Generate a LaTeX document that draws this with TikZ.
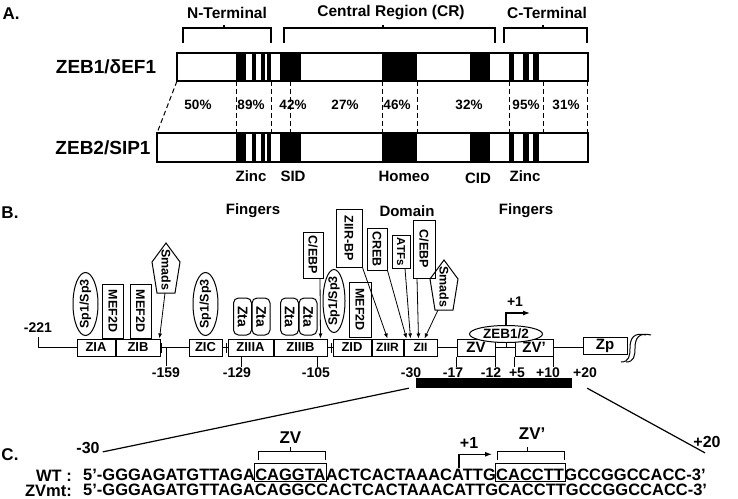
\documentclass[tikz,border=0pt]{standalone}
\usepackage{fontspec}
\setmainfont{Liberation Sans}
\usetikzlibrary{calc,arrows.meta,positioning,shapes.geometric}

\newcommand{\sz}[1]{\fontsize{#1}{#1}\selectfont\bfseries}
% pentagon round a Smads label
\newcommand{\smadsshape}[1]{\draw[line width=1pt] ($(#1)+(0,-25)$) -- ($(#1)+(14,-6)$) -- ($(#1)+(9,25)$) -- ($(#1)+(-9,25)$) -- ($(#1)+(-14,-6)$) -- cycle;}

\begin{document}
\begin{tikzpicture}[x=1pt,y=-1pt,
 panel/.style={font=\sz{17}},
 region/.style={font=\sz{15.5}},
 prot/.style={font=\sz{19}},
 pct/.style={font=\sz{13.5}},
 motif/.style={font=\sz{15}},
 zbox/.style={draw,line width=1pt,minimum height=17,inner sep=0,font=\sz{13}},
 fac/.style={draw,line width=1pt,rotate=-90,inner sep=0,minimum height=21,font=\sz{12.5}},
 spone/.style={draw,ellipse,line width=1pt,rotate=90,inner sep=0,inner xsep=-6pt,minimum width=63,minimum height=25,font=\sz{12.5}},
 zta/.style={draw,rounded corners=5,line width=1pt,rotate=-90,inner sep=0,minimum width=37,minimum height=18,font=\sz{14}},
 poslab/.style={font=\sz{14},inner sep=0},
 bind/.style={-{Latex[length=5pt,width=4pt]},line width=0.8pt},
 tss/.style={-{Latex[length=7pt,width=5pt]},line width=1.2pt},
 cut/.style={dash pattern=on 5pt off 3pt,line width=1pt},
 seq/.style={font=\sz{16.5},inner sep=0,anchor=base west},
 seqlab/.style={font=\sz{16.5},inner sep=0,anchor=base east}]

\useasboundingbox (0,0) rectangle (738,498);

% ---- A: the two proteins
\node[panel] (pa) at (11,14) {A.};
\node[region] (nterm) at (227,13) {N-Terminal};
\node[region] (creg) at (391,13) {Central Region (CR)};
\node[region] (cterm) at (547,13) {C-Terminal};
\draw[line width=1.3pt] (183,43) |- (271,28) -- (271,43);
\draw[line width=1.3pt] (284,43) |- (495,28) -- (495,43);
\draw[line width=1.3pt] (504,43) |- (587,28) -- (587,43);
\draw[line width=1.3pt] (224,28) -- (224,25) (383,28) -- (383,25) (543,28) -- (543,25);

\node[prot] (zeb1) at (106,67) {ZEB1/δEF1};
\node[prot] (zeb2) at (103,148) {ZEB2/SIP1};
\draw[line width=1.2pt] (177,53) rectangle (588,81);
\draw[line width=1.2pt] (157,133) rectangle (588,162);
\foreach \a/\b in {236/246,252/256,261/265,267/271,280/301,382/417,470/490,509/514,523/529,533/539}
  {\fill (\a,53) rectangle (\b,81); \fill (\a,133) rectangle (\b,162);}

\node[pct] (p50) at (198,105) {50\%};
\node[pct] (p89) at (251,105) {89\%};
\node[pct] (p42) at (293,105) {42\%};
\node[pct] (p27) at (345,105) {27\%};
\node[pct] (p46) at (397,105) {46\%};
\node[pct] (p32) at (469,105) {32\%};
\node[pct] (p95) at (526,105) {95\%};
\node[pct] (p31) at (566,105) {31\%};
\draw[cut] (177,81) -- (157,133);
\foreach \x in {236,271,290,382,417,509,543,587}
  \draw[cut] (\x,81) -- (\x,133);

\node[motif] (zincA) at (251,176) {Zinc};
\node[motif] (sid) at (293,176) {SID};
\node[motif] (homeo) at (404,176) {Homeo};
\node[motif] (cid) at (478,178) {CID};
\node[motif] (zincB) at (525,176) {Zinc};

% ---- B: the promoter
\node[panel] (pb) at (10,213) {B.};
\node[motif] (fing1) at (253,211) {Fingers};
\node[motif] (dom) at (407,211) {Domain};
\node[motif] (fing2) at (526,211) {Fingers};

\node[zbox,minimum width=38] (zia) at (96,347.5) {ZIA};
\node[zbox,minimum width=44,right=0pt of zia] (zib) {ZIB};
\node[zbox,minimum width=33] (zic) at (205.5,347.5) {ZIC};
\node[zbox,minimum width=45] (ziiia) at (250.5,347.5) {ZIIIA};
\node[zbox,minimum width=53,right=0pt of ziiia] (ziiib) {ZIIIB};
\node[zbox,minimum width=38] (zid) at (352,347.5) {ZID};
\node[zbox,minimum width=31,font=\sz{12},right=0pt of zid] (ziir) {ZIIR};
\node[zbox,minimum width=33,font=\sz{12},right=0pt of ziir] (zii) {ZII};
\node[zbox,minimum width=38,font=\sz{15}] (zv) at (476,347.5) {ZV};
\node[zbox,minimum width=38,font=\sz{15}] (zvp) at (534,347.5) {ZV'};
\node[zbox,minimum width=44,font=\sz{15}] (zp) at (605,346) {Zp};

\node[poslab] (n221) at (38,328) {-221};
\draw[line width=1pt] (n221.south |- 0,337) |- (zia.west);
\draw[line width=1pt] (zib.east) -- (zic.west);
\draw[line width=1pt] (zic.east) -- (ziiia.west);
\draw[line width=1pt] (ziiib.east) -- (zid.west);
\draw[line width=1pt] (zii.east) -- (zv.west);
\draw[line width=1pt] (zv.east) -- (zvp.west);
\draw[line width=1pt] (zvp.east) -- (zvp.east -| zp.west);
\draw[line width=1pt] (161,343) -- (161,353) (226,343) -- (226,353) (331,343) -- (331,353);

\node[poslab] (n159) at (166,373) {-159};
\node[poslab] (n129) at (237,373) {-129};
\node[poslab] (n105) at (316,373) {-105};
\node[poslab] (n30) at (411,373) {-30};
\node[poslab] (n17) at (453,373) {-17};
\node[poslab] (n12) at (491,373) {-12};
\node[poslab] (n5) at (517,373) {+5};
\node[poslab] (n10) at (548,373) {+10};
\node[poslab] (n20) at (585,373) {+20};
\draw[line width=1pt] (n159.north |- zib.east) -- ++(0,18);
\draw[line width=1pt] ([xshift=-9.5]ziiia.south) -- ++(0,10);
\draw[line width=1pt] ([xshift=16.5]ziiib.south) -- ++(0,10);
\draw[line width=1pt] (zv.south west) -- ++(0,10) (zv.south east) -- ++(0,10);
\draw[line width=1pt] (zvp.south west) -- ++(0,10) (zvp.south east) -- ++(0,10);

% break after Zp
\draw[line width=1pt] (621,362) .. controls (629,362) and (630,356) .. (630,348)
   .. controls (630,338) and (634,332) .. (646,335);
\draw[line width=1pt] (626,362) .. controls (634,362) and (635,356) .. (635,348)
   .. controls (635,338) and (639,332) .. (651,335);

% binding factors
\node[spone] (sp1) at (85.5,304) {Sp1/Sp3};
\node[fac,minimum width=54] (mef1) at (113,311) {MEF2D};
\node[fac,minimum width=54] (mef2) at (140.5,311) {MEF2D};
\node[font=\sz{12.5},rotate=-90,inner sep=0] (smA) at (166,270) {Smads};
\smadsshape{166,268}
\draw[bind] (165,293) -- ([xshift=-1]zib.north east);
\node[spone] (sp2) at (205.5,304) {Sp1/Sp3};
\node[zta] (zta1) at (242.5,316.5) {Zta};
\node[zta] (zta2) at (261,316.5) {Zta};
\node[zta] (zta3) at (289.5,316.5) {Zta};
\node[zta] (zta4) at (308,316.5) {Zta};
\node[fac,minimum width=46,minimum height=20] (cebp1) at (313,255) {C/EBP};
\draw[bind] ([xshift=7]cebp1.east) -- ([xshift=-7]ziiib.north east);
\node[spone,minimum height=22] (sp3) at (334,301) {Sp1/Sp3};
\node[fac,minimum width=58,minimum height=26] (ziirbp) at (349,238) {ZIIR-BP};
\node[fac,minimum width=55,minimum height=22] (mef3) at (360,309.5) {MEF2D};
\draw[bind] (ziirbp.north east) -- (ziir.north);
\node[fac,minimum width=42,minimum height=20] (creb) at (377,249) {CREB};
\node[fac,minimum width=33,minimum height=18,font=\sz{11.5}] (atfs) at (401,251.5) {ATFs};
\node[fac,minimum width=58,minimum height=22] (cebp2) at (424,249) {C/EBP};
\node[font=\sz{12.5},rotate=-90,inner sep=0] (smB) at (444,287) {Smads};
\smadsshape{444,285}
\draw[bind] (creb.north east) -- ([xshift=3]zii.north west);
\draw[bind] ([xshift=4]atfs.east) -- ([xshift=7]zii.north west);
\draw[bind] ([xshift=-7]cebp2.east) -- ([xshift=15]zii.north west);
\draw[bind] (438,310) -- ([xshift=21]zii.north west);

\node[draw,ellipse,fill=white,line width=1pt,minimum width=73,minimum height=17,inner sep=0,font=\sz{13.5}] (zeb) at (506,334) {ZEB1/2};
\draw[line width=1pt] (zeb.south) -- (zeb.south |- zv.east);
\coordinate (tssB) at (530,313);
\draw[tss] (zeb.north) |- (tssB);
\node[poslab] (p1b) at (515,302) {+1};

\node[fill,minimum width=156,minimum height=10,inner sep=0] (crbar) at (494,383) {};

% ---- C: the sequence
\node[panel] (pc) at (10,455) {C.};
\node[font=\sz{16},inner sep=0] (m30c) at (88,448) {-30};
\node[font=\sz{16},inner sep=0] (p20c) at (707,442) {+20};
\draw[line width=1.2pt] ([xshift=-7]crbar.south west) -- ($(m30c.south east)+(3,-2)$);
\draw[line width=1.2pt] ([xshift=15]crbar.south east) -- ($(p20c.south)+(-2,5)$);

\node[seqlab] (wt) at (72,481) {WT :};
\node[seqlab] (mt) at (72,496) {ZVmt:};
\node[seq] (s1) at (83,480) {5'-GGGAGATGTTAGA};
\node[seq] (s2) at (s1.base east) {CAGGTA};
\node[seq] (s3) at (s2.base east) {ACTCACTAAACATTG};
\node[seq] (s4) at (s3.base east) {CACCTT};
\node[seq] (s5) at (s4.base east) {GCCGGCCACC-3'};
\node[seq] (m1) at (83,495) {5'-GGGAGATGTTAGACAGGCCACTCACTAAACATTGCACCTTGCCGGCCACC-3'};

\draw[line width=1pt] ($(s2.north west)+(-1,-5)$) rectangle ($(s2.south east)+(1,1)$);
\draw[line width=1pt] ($(s4.north west)+(-1,-5)$) rectangle ($(s4.south east)+(1,1)$);
\draw[line width=1pt] ($(s2.north west)+(3,-8)$) |- ($(s2.north)+(0,-17)$) -| ($(s2.north east)+(0,-8)$);
\draw[line width=1pt] ($(s2.north)+(0,-17)$) -- ++(0,-4);
\draw[line width=1pt] ($(s4.north west)+(1,-8)$) |- ($(s4.north)+(-3,-17)$) -| ($(s4.north east)+(0,-8)$);
\draw[line width=1pt] ($(s4.north)+(-3,-17)$) -- ++(0,-4);
\node[font=\sz{17},inner sep=0] (zvl) at ($(s2.north)+(0,-31)$) {ZV};
\node[font=\sz{17},inner sep=0] (zvpl) at ($(s4.north)+(2,-35)$) {ZV'};
\draw[tss] ($(s3.north east)+(-37,0)$) |- ($(s4.north west)+(-4,-14)$);
\node[font=\sz{16},inner sep=0] (p1c) at ($(s3.north east)+(-27,-25)$) {+1};

\end{tikzpicture}
\end{document}
